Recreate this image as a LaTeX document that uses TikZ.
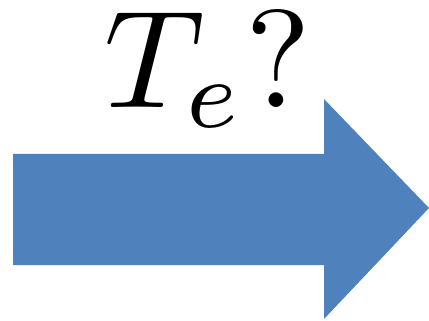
\documentclass[tikz,border=0pt]{standalone}
\usepackage{amsmath}
\usepackage{tikz}
\usetikzlibrary{positioning}
\definecolor{ArrowBlue}{RGB}{79,129,189}

\begin{document}
\begin{tikzpicture}[x=1pt, y=-1pt]
    % Frame of the picture
    \useasboundingbox (0,0) rectangle (429,321);

    % The big block arrow
    \fill[ArrowBlue] (13,154) -- (324,154) -- (324,99) -- (429,208)
        -- (324,319) -- (324,265) -- (13,265) -- cycle;

    % Label above the arrow
    \node[anchor=base, inner sep=0pt, scale=13.9] (qlabel) at (208,107) {$T_e?$};
\end{tikzpicture}
\end{document}
